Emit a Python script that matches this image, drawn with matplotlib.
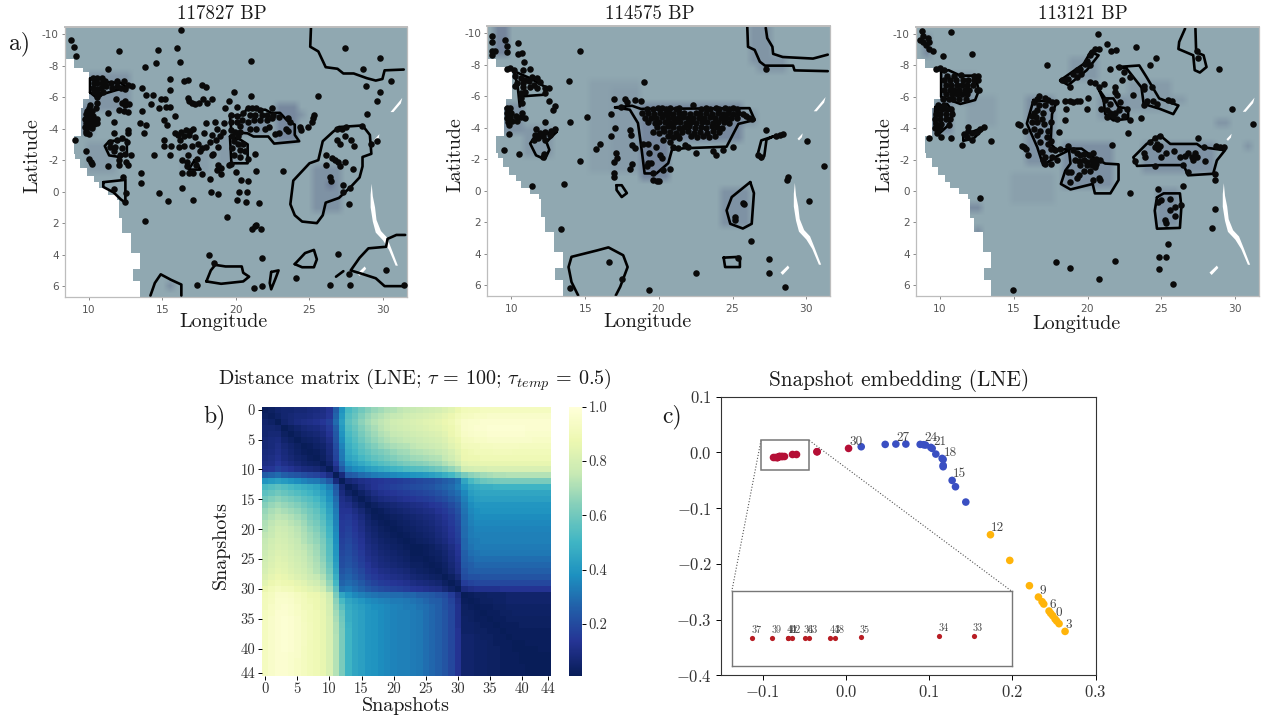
""" Stone point density maps, snapshot distance matrix and LNE embedding. """
# imports and dependencies.
import numpy as np
import matplotlib
matplotlib.use('Agg')
import matplotlib.pyplot as plt
from matplotlib.colors import LinearSegmentedColormap
from matplotlib.patches import Rectangle

plt.rcParams['font.family'] = ['cmr10', 'DejaVu Sans']
plt.rcParams['mathtext.fontset'] = 'cm'
plt.rcParams['axes.unicode_minus'] = False
plt.rcParams['axes.formatter.use_mathtext'] = True

W, H = 1262, 717

# ---- map panels ----
map_titles = ['117827 BP', '114575 BP', '113121 BP']
lon_ticks = [10, 15, 20, 25, 30]
lat_ticks = [-10, -8, -6, -4, -2, 0, 2, 4, 6]

# west coast staircase, shared by the three maps
coast_lat = [-8.4, -7.85, -7.6, -5.85, -5.3, -3.5, -2.4, -2.1, -1.5, -1.0, -0.6, -0.2, 0.2, 0.5, 1.7, 2.6, 3.9, 4.9, 5.7, 6.7]
coast_lon = [9.0, 9.6, 10.05, 9.65, 9.5, 9.0, 9.1, 9.45, 9.9, 10.35, 10.7, 11.3, 11.9, 12.05, 12.3, 12.9, 13.5, 13.0, 13.5, 13.5]

lakes = [
    [(29.22, -0.5), (29.3, 0.3), (29.45, 1.0), (29.55, 1.8), (29.85, 2.5), (30.25, 2.9), (30.55, 3.6), (31.0, 4.7),
     (30.85, 4.7), (30.4, 3.7), (30.0, 3.1), (29.5, 2.6), (29.3, 1.9), (29.15, 1.0), (29.15, 0.2)],
    [(30.5, -5.05), (30.9, -5.5), (31.3, -5.95), (31.2, -5.6), (30.7, -5.05)],
    [(29.4, -3.3), (29.75, -3.65), (29.7, -3.4), (29.5, -3.2)],
    [(28.25, 5.2), (28.75, 4.75), (28.85, 4.9), (28.4, 5.35)],
]

# darker patches of the background: lon0, lon1, lat0, lat1, level
tints_117827 = [
    (23, 24.5, -5.3, -3.2, .5), (20.5, 22.5, -4.5, -3.5, .35), (10, 13, -7.5, -5, .3), (9.5, 10.5, -5.7, -3.5, .35),
    (25.5, 27.5, -1.5, 1.5, .35), (26.5, 27, -.5, 0, .7), (27.2, 27.6, -9.3, -8.9, .5), (8.9, 9.2, -7.6, -7.4, 1),
    (9.5, 10, -7.7, -7.4, .4), (15.5, 16, 5.9, 6.4, .4), (24.3, 25, -5.2, -4.3, .3), (10, 12, -3, -1, .2),
    (19, 20.5, -3.5, -1.5, .2), (16.5, 18.5, -3, -1, .15),
]
tints_114575 = [
    (8.7, 9.8, -10.3, -8.5, .55), (19, 26, -5.4, -3, .5), (17, 19, -6.5, -1, .2), (18.8, 21, -3, -.5, .55),
    (24.5, 26.5, 0, 2.5, .35), (9.5, 11, -5.5, -3.5, .35), (11, 13, -4, -2, .25), (26.5, 28, -10.3, -8, .3),
    (27, 29, -8.5, -7.7, .3), (15.5, 19, -6.8, -1, .12), (8.9, 9.2, -7.6, -7.4, 1), (26, 27, -5.2, -4, .25),
]
tints_113121 = [
    (8.7, 9.6, -10, -8.5, .45), (10, 12.5, -7.5, -5.5, .3), (9.6, 11, -5.5, -3.5, .4), (16, 18, -6, -1.5, .35),
    (18.5, 22, -3, 0, .4), (24, 29, -3.2, -1.2, .35), (25, 26.5, .2, 2.3, .35), (21, 23, -6, -4.3, .3),
    (19, 21, -8.5, -7, .25), (23, 26, -7, -5.2, .2), (12, 14, -6, -4, .12), (15, 18, -1, 1, .12),
    (12, 13, 1, 1.4, .45), (12.5, 13, 2.5, 3, .4), (29, 30, -4.7, -4.2, .3), (8.9, 9.2, -7.6, -7.4, 1),
    (31, 31.5, -3, -2.5, .3), (26, 27, -5.8, -5.4, .2),
]

contours_117827 = [
    [(25.1, -10.4), (25.05, -9.2), (25.6, -8.9), (25.9, -8.3), (26.1, -7.9), (26.9, -7.8), (27.3, -7.5), (28.0, -7.5), (28.9, -7.2), (29.5, -7.05), (29.95, -7.15), (30.1, -7.7), (31.4, -7.75)],
    [(10.1, -6.3), (10.1, -7.2), (10.9, -7.15), (11.2, -6.95), (12.2, -6.9), (12.6, -6.6), (11.9, -6.45), (11.0, -6.2), (10.5, -6.0), (10.1, -6.3)],
    [(19.6, -4.8), (20.5, -4.85), (20.7, -5.2), (22.0, -5.2), (22.4, -5.0), (23.0, -5.0), (23.5, -4.5), (24.0, -4.25), (24.0, -3.6), (24.3, -3.2), (22.6, -3.05), (22.2, -3.5), (21.2, -3.5), (20.8, -3.7), (19.7, -3.8), (19.6, -4.8)],
    [(19.6, -3.5), (20.3, -3.3), (20.8, -3.0), (20.8, -1.8), (19.7, -1.8), (19.6, -3.5)],
    [(11.4, -3.2), (12.6, -3.3), (12.6, -2.4), (12.1, -2.2), (11.4, -2.3), (11.1, -2.9), (11.4, -3.2)],
    [(17.2, -2.0), (17.6, -1.4), (16.8, -1.4), (17.2, -2.0)],
    [(11.0, -.6), (12.5, -.75), (12.5, .7), (12.2, .5), (11.7, .05), (11, -.3), (11.0, -.6)],
    [(27.0, -4.1), (28.6, -4.2), (29.1, -3.6), (29.2, -2.4), (28.6, -2.2), (28.6, -1.6), (28.4, -.9), (27.8, -.3), (27, .4), (26.1, .7), (25.9, 1.5), (25.5, 2), (24.5, 1.9), (24.0, 1.5), (23.7, .8), (23.9, -.7), (25, -1.8), (25.6, -2), (25.9, -3.2), (26.6, -3.8), (27, -4.1)],
    [(14.2, 6.6), (14.5, 5.8), (14.9, 5.25), (15.6, 5.6), (16.3, 5.9), (16.3, 6.6)],
    [(18.0, 5.7), (18.3, 5.0), (18.6, 4.65), (19.3, 4.75), (20.4, 4.75), (20.5, 5.15), (20.9, 5.4), (20.5, 5.7), (19, 5.85), (18.0, 5.7)],
    [(24, 4.6), (24.7, 3.9), (25.3, 3.7), (25.5, 4.3), (25.3, 4.8), (24.5, 4.8), (24, 4.6)],
    [(22.4, 5.1), (22.9, 5.0), (22.7, 5.5), (22.4, 6.2), (22.3, 5.8), (22.4, 5.1)],
    [(31.5, 2.75), (30.9, 2.75), (30.3, 3.0), (30.2, 3.5), (29.0, 3.6), (28.4, 4.2), (27.8, 5.0), (28.5, 5.2), (29.5, 5.5), (30.1, 6.0), (31.5, 6.0)],
    [(26.8, 5.4), (27.3, 5.05)],
]
contours_114575 = [
    [(26, -10.4), (26.05, -9.15), (26.5, -8.95), (26.85, -8.2), (27.2, -7.95), (29.1, -7.95), (29.2, -7.65), (31.45, -7.6)],
    [(27.25, -10.35), (27.35, -9.7), (27.7, -9.15), (27.75, -8.7), (28.4, -8.5), (30.45, -8.4), (31.45, -8.65)],
    [(10.2, -7.6), (11.3, -7.15), (12.5, -6.5), (12.2, -6.1), (10.75, -6), (10.6, -5.35), (10.45, -6.7), (10.2, -7.6)],
    [(13.1, -3.75), (12.4, -3.1), (12.6, -2.6), (12.3, -2), (11.7, -2.25), (11.3, -3), (11.7, -3.55), (13.1, -3.75)],
    [(17.05, -5.3), (18.2, -5.4), (18.8, -5.2), (26.15, -5.25), (26.5, -4.5), (25.4, -4.25), (24.6, -2.8), (21.7, -2.7), (20.9, -2.6), (20.65, -1.75), (19.85, -1.1), (19.05, -1.1), (18.85, -2.6), (18.6, -4.3), (18.05, -5.15), (17.05, -5.3)],
    [(27.75, -3.45), (27.3, -3.25), (27.15, -2.2), (26.95, -2.0), (26.7, -2.3), (26.95, -3.2), (27.75, -3.45)],
    [(17.15, -.35), (17.5, -.35), (17.85, .15), (17.5, .4), (17.15, -.05), (17.15, -.35)],
    [(26.2, -.55), (26.45, .15), (26.3, 2.1), (25.7, 2.4), (24.85, 2.1), (24.6, 1.25), (24.95, .4), (26.2, -.55)],
    [(14.55, 6.65), (14.1, 5.8), (13.9, 4.85), (14.1, 4.2), (15.8, 3.8), (16.6, 3.6), (17.6, 4.1), (17.9, 4.85), (17.4, 6.1), (17.1, 6.65)],
    [(24.4, 4.25), (25.5, 4.2), (25.5, 4.85), (24.5, 4.85), (24.4, 4.25)],
]
contours_113121 = [
    [(26.6, -10.35), (26.2, -9.5), (26.15, -9.05), (27.15, -8.65), (27.25, -7.7), (27.6, -7.55), (28.05, -7.9), (27.85, -8.65), (27.35, -8.85), (27.3, -10.35)],
    [(10.1, -7.6), (10.6, -7.7), (11.4, -7.35), (12.4, -7.35), (12.65, -6.4), (12.4, -5.8), (11.4, -5.55), (10.1, -6), (10.1, -7.6)],
    [(9.7, -5.35), (10.5, -5.55), (10.95, -5), (10.6, -4.2), (9.95, -3.65), (9.65, -4.3), (9.7, -5.35)],
    [(11.6, -3.55), (13.1, -4.1), (12.3, -3.35), (11.6, -3.2), (11.6, -3.55)],
    [(16.35, -5.8), (17.9, -5.65), (17.6, -4.9), (17.5, -3), (17.95, -2.6), (18.85, -2.7), (19.6, -2.7), (20.4, -2.15), (21.2, -1.75), (22.1, -1.7), (22.1, -.7), (21.55, .15), (20.5, .15), (20.35, -.45), (18.85, -.1), (18.2, -.45), (18.5, -1.3), (18.85, -1.75), (18.75, -2.6), (17.9, -2.2), (17, -1.65), (16.6, -2.8), (15.9, -4.3), (16.35, -5.8)],
    [(18.15, -7.05), (19.75, -8.1), (20.2, -8.85), (20.75, -8.65), (19.95, -7.7), (18.7, -6.75), (18.15, -7.05)],
    [(22, -7.9), (23.5, -8), (24, -7.25), (24.85, -5.9), (26.15, -5.45), (25.8, -4.9), (24.85, -5.25), (23.8, -5.55), (23.65, -6.6), (22.65, -7.8), (22, -7.9)],
    [(20.75, -6.5), (21.2, -5.9), (21.75, -5.9), (22.1, -5.35), (22.75, -5.25), (22.75, -4.6), (21.75, -4.5), (21.2, -4.9), (21.1, -5.75), (20.75, -6.5)],
    [(24.9, -3.55), (25.6, -3), (27.4, -3), (27.7, -2.8), (29.3, -2.6), (28.75, -1.95), (28.5, -1.1), (26.8, -1), (26.5, -1.65), (24.9, -1.65), (23.35, -1.6), (23.1, -2.15), (24, -3), (24.9, -3.55)],
    [(24.7, .4), (25.15, .15), (26.25, .15), (26.35, 1), (26.25, 2.35), (24.7, 2.4), (24.55, 1.25), (24.7, .4)],
]

points_117827 = [
    (8.8, -9.6), (9.0, -9.2), (9.15, -8.6), (12.05, -8.9), (14.7, -9.0), (16.0, -9.1), (16.25, -10.25), (16.2, -8.25), (14.55, -8.15), (13.8, -7.9), (11.35, -7.8), (21.0, -8.3),
    (27.4, -9.1), (29.8, -8.5), (28.65, -7.8), (30.55, -7.0), (28.85, -6.7), (29.8, -6.35), (29.55, -5.75), (28.9, -4.95), (25.55, -6.05),
    (10.3, -7.2), (10.6, -7.2), (10.9, -7.2), (10.35, -6.9), (10.6, -6.9), (10.9, -6.9), (11.1, -7.0), (11.5, -6.9), (11.9, -7.0), (12.4, -7.0), (12.7, -6.8), (12.95, -6.7),
    (10.3, -6.6), (10.6, -6.5), (10.85, -6.6), (11.2, -6.7), (11.6, -6.6), (11.9, -6.7), (12.2, -6.6), (12.45, -6.5), (10.4, -6.3), (10.7, -6.2), (11.0, -6.35), (10.6, -6.0),
    (12.5, -5.75), (11.85, -5.85), (12.3, -5.6), (12.5, -5.5), (12.75, -5.55), (10.6, -5.6), (10.5, -5.3), (12.05, -5.2), (12.4, -5.15), (12.65, -5.05), (11.35, -5.0),
    (10.1, -5.5), (10.05, -5.3), (9.9, -5.1), (10.2, -5.1), (9.8, -4.9), (10.05, -4.85), (10.3, -4.8), (9.75, -4.6), (10, -4.6), (10.25, -4.55), (10.55, -4.6), (9.8, -4.35), (10.05, -4.35), (10.35, -4.3), (10.6, -4.35),
    (9.75, -4.1), (9.95, -4.1), (10.2, -4.05), (9.8, -3.85), (9.85, -3.7), (10.05, -3.65), (9.1, -3.3), (9.8, -2.55), (10.0, -2.1), (10.15, -1.9), (10.2, -1.75),
    (13.65, -6.55), (13.9, -6.15), (14.35, -6.15), (14.25, -5.55), (13.6, -5.1), (14.75, -5.3), (14.9, -5.85), (15.2, -5.9), (15.55, -6.45), (15.55, -7.15), (16.45, -7), (16.75, -7.1), (17.7, -6.75), (18, -6.65), (19.9, -6.35),
    (16.75, -5.95), (16.85, -5.75), (17.0, -5.6), (17.25, -5.55), (17.5, -5.6), (17.8, -5.9), (18.05, -5.6), (18.4, -5.9), (19.55, -5.75), (21, -6.05), (19.25, -5.3), (20.1, -5.4),
    (15.1, -4.55), (15.25, -5.4), (15.55, -5.4), (15.9, -4.8), (15.35, -4.25), (13.5, -4.35), (13.9, -4.2), (13.75, -3.7), (15.1, -3.3), (15.1, -2.9), (15.6, -2.9), (14.45, -2.3), (15.55, -2.3),
    (15.9, -3.75), (16.1, -3.6), (16.3, -3.8), (16.6, -3.9), (16.9, -3.85), (17.1, -4), (16.8, -3.6), (16.45, -3.5), (16.2, -3.3), (17.25, -3.45), (16.15, -2.85), (16.45, -2.9), (17, -2.9), (17.45, -3), (17.7, -2.75), (17.55, -2.55),
    (16.75, -2.3), (16.35, -2), (16.65, -1.9), (17.35, -2.1), (17.3, -1.7), (16.65, -1.6), (16.35, -1.2), (16.85, -1.2), (17.1, -1.2), (17.7, -1.1), (18.25, -.8),
    (18.0, -4.35), (18.6, -4.4), (19.2, -4.35), (18.75, -4), (17.85, -3.75), (18.35, -3.6), (19.1, -3.8), (18.9, -3.5), (18.65, -3.3), (18.25, -3.15), (18.0, -2.85), (18.8, -2.85), (18.45, -2.4), (18.35, -2.3),
    (18.8, -1.7), (18.7, -1.35), (19, -1.15), (19, -1.5), (19.55, -1.7), (19.7, -1.75), (20, -1.25), (20.35, -.75), (20.8, -.65), (21.4, -1.3), (23.2, -1.3), (21.3, -2.4),
    (19.7, -4.85), (20.1, -4.8), (20.5, -5), (20.85, -5.3), (21.1, -5.3), (21.4, -5.3), (21.65, -5.2), (22.45, -5.3), (20.95, -4.85), (21.3, -4.85), (21.75, -4.85), (22.1, -4.85), (22.55, -4.85), (22.9, -4.75), (23.55, -4.65), (23.65, -4.45),
    (19.7, -4.45), (20.05, -4.45), (20.4, -4.55), (20.85, -4.45), (21.2, -4.55), (21.65, -4.55), (22.1, -4.55), (22.45, -4.65), (20.3, -4.15), (20.95, -4), (21.4, -4), (21.95, -3.95), (22.25, -4.1), (23.4, -4), (23.55, -3.85), (22.9, -3.75), (22.65, -3.65),
    (24.35, -4.1), (24.45, -3.9), (24.9, -4.1), (25.3, -4.85), (25.25, -4.65), (25.2, -4.45), (19.7, -3.9), (19.95, -3.8), (20.3, -3.8), (19.75, -3.5), (20.15, -3.5), (19.85, -3.2), (20.15, -3.05), (20.5, -3.05), (19.75, -2.75), (20.3, -2.65), (20.6, -2.55), (19.85, -2.3), (20.3, -2.2), (20.85, -2.1),
    (20.2, .05), (20.75, .05), (20.1, .55), (20.7, .65), (21.6, .7), (18.3, .05), (18.8, .15), (17.1, .55), (15.4, .6), (14.75, .1), (16.35, -.2), (13.55, -1.2), (13.55, -.55), (13.85, 1.85), (19.4, 1.6),
    (21.1, 2.35), (21.3, 2.2), (21.4, 2.1), (21.7, 2.4), (21.75, 4.2), (18.15, 4.05), (18.5, 4.5), (17.35, 5.95), (21.25, 6.1), (21.8, 6), (24.05, 5.5), (26.4, 5.95), (26.95, 3.95), (27.65, 5.2), (27.75, 5.9), (30.2, 4.95), (31.4, 5.95), (27.65, .8),
    (26.85, -4), (27.2, -4), (27.5, -4.1), (28.55, -4.15), (26.85, -3.3), (27.4, -3.5), (27.1, -3.05), (27.85, -3.3), (28, -2.9), (29.2, -3.05), (29.6, -3.2), (26.1, -2.3), (26.5, -2.15), (26.7, -2), (26.95, -1.85), (27.4, -1.85), (26.15, -1.7), (27.05, -1.65), (27.95, -1.45), (26.4, -.95), (26.45, -.65), (27.25, -.45), (27.75, -.2), (27.3, .05),
    (11.7, -4.4), (11.7, -3.7), (12.65, -3.9), (12.7, -3.7), (11.45, -3.15), (11.9, -3.3), (12.25, -3.4), (12.6, -3.15), (11.8, -2.85), (12.25, -2.75), (11.45, -2.85), (11.7, -2.55), (12.15, -2.3), (12.5, -2.4), (12.85, -2.3), (12.1, -2), (12.55, -1.9), (12.7, -1.7), (12.1, -1.7), (11.3, -1.6), (12.35, -.95), (11.75, -.15), (12.55, .1), (12.5, .65),
]

points_114575 = [
    (8.7, -9.85), (8.7, -9.45), (9.6, -9.6), (9.7, -9.2), (10.45, -9.4), (8.7, -8.85), (8.95, -8.85), (8.7, -8.65), (9.7, -8.8), (10.5, -8.7), (10.75, -8.75), (10.9, -8.2), (14.7, -8.85), (13.9, -7), (19, -6.9),
    (9.75, -7.75), (9.95, -7.8), (10.2, -7.65), (10.8, -7.7), (11.3, -7.75), (10.3, -7.3), (10.65, -7.15), (10.95, -7.05), (11.4, -7.25), (11.75, -7.15), (10.4, -6.85), (10.8, -6.85), (11.2, -6.95), (11.55, -6.75), (12, -6.9),
    (10.3, -6.65), (10.85, -6.6), (11.3, -6.6), (11.75, -6.5), (12.3, -6.5), (12.55, -6.5), (10.65, -6.2), (10.95, -6.3), (12.3, -6.2), (10.65, -5.9), (12.55, -5.7), (13, -5.4), (12.85, -5.15), (10.75, -5.55), (10.75, -4.95), (10.95, -4.65),
    (9.7, -5.25), (9.95, -5.25), (9.7, -4.95), (10, -4.95), (9.7, -4.65), (9.95, -4.7), (10.35, -4.75), (10.65, -4.7), (9.8, -4.4), (10.05, -4.45), (10.4, -4.45), (9.85, -4.2), (9.85, -3.6), (9.5, -2.6), (10.55, -2.35),
    (11.7, -3.95), (12.3, -4.35), (13, -3.95), (12.7, -3.8), (12.3, -3.75), (12, -3.65), (11.65, -3.55), (12.65, -3.55), (12.2, -3.45), (11.85, -3.35), (11.55, -3.25), (12.3, -3.25), (12.25, -2.35), (12.2, -2.15),
    (14, -4.35), (15.15, -4.7), (13.6, -.4), (11.45, -.3), (13.4, 2.45), (14, 6.2), (16.65, 4.5), (17.5, 5.6), (19.35, 6.3), (22.55, 5.25), (25.4, 4.25), (26.25, 3.2), (27.5, 4.35), (27.5, 5.2), (28.55, 6.1), (30.2, .65), (31.2, -1.55), (30.05, -3.15),
    (28.75, -.9), (28.7, -.7), (27.25, -3.85), (27.95, -3.5), (28.2, -3.55), (28.4, -3.6), (27.25, -7.75), (25, -2.8), (25.7, .8), (25.75, .85), (25.15, 1.65), (25.15, 1.85), (26.75, -2.3), (26.95, -2.15),
    (17, -5.85), (16.8, -4.9), (17.05, -4), (16.8, -3.5), (16.05, -2.95), (15.75, -2.65), (14.7, -1.9), (17.1, -2.4), (17.15, -2.05), (16.95, -1.8), (16.95, -1.1), (17, -.85), (18.05, -3.85), (18.15, -3.55), (18.2, -2.9), (18.4, -2.7), (18.05, -1.4), (18.2, -1.7),
    (17.7, -5.85), (17.85, -5.65), (18.4, -5.75), (18.8, -5.7), (17.45, -5.3),
    (19.2, -5.2), (19.6, -5.2), (19.95, -5.25), (20.25, -5.25), (20.5, -5.2), (20.8, -5.25), (21.15, -5.2), (21.4, -5.25), (22.3, -5.45), (22.9, -5.2), (23.2, -5.25), (23.5, -5.2), (23.85, -5.25), (24.1, -5.2), (24.5, -5.25), (24.75, -5.2), (25.05, -5.25), (25.3, -5.2),
    (18.9, -4.95), (19.3, -4.95), (19.7, -4.9), (20.1, -4.95), (20.4, -4.9), (20.7, -4.95), (21.0, -4.9), (21.35, -4.95), (21.7, -4.95), (22.1, -4.9), (22.5, -4.95), (22.8, -4.9), (23.2, -4.95), (23.6, -4.9), (24.0, -4.95), (24.35, -4.9), (24.7, -4.95), (25.0, -4.9), (25.4, -4.95), (25.7, -4.9),
    (19.1, -4.65), (19.5, -4.6), (19.85, -4.65), (20.2, -4.7), (20.6, -4.65), (20.95, -4.6), (21.3, -4.65), (21.65, -4.7), (22.0, -4.6), (22.35, -4.65), (22.7, -4.6), (23.05, -4.65), (23.45, -4.7), (23.8, -4.65), (24.2, -4.6), (24.55, -4.65), (24.9, -4.6), (25.3, -4.65), (25.9, -4.75), (26.1, -4.65), (26.3, -4.55),
    (19.3, -4.35), (19.75, -4.3), (20.05, -4.4), (20.4, -4.35), (20.75, -4.3), (21.1, -4.35), (21.45, -4.4), (21.85, -4.3), (22.2, -4.35), (22.55, -4.3), (22.95, -4.4), (23.3, -4.35), (23.65, -4.3), (24.0, -4.35), (24.4, -4.4), (24.75, -4.3),
    (19.9, -4.05), (20.3, -4.0), (20.6, -4.1), (21.0, -4.05), (21.35, -4.0), (21.7, -4.05), (22.05, -4.1), (22.45, -4.0), (22.85, -4.05), (23.2, -4.0), (23.6, -4.1), (23.95, -4.05), (24.3, -4.0),
    (19.6, -3.75), (20.0, -3.7), (20.35, -3.8), (20.75, -3.75), (21.2, -3.7), (21.6, -3.75), (22.0, -3.8), (22.4, -3.7), (22.8, -3.75), (23.25, -3.7), (23.65, -3.8), (24.1, -3.75),
    (20.6, -3.45), (20.95, -3.4), (21.3, -3.5), (22.2, -3.45), (22.6, -3.4), (23.0, -3.45), (23.4, -3.4), (23.8, -3.5),
    (18.95, -3), (19.3, -3), (19.85, -2.8), (20.3, -3.2), (20.75, -3.1), (21.35, -3.35), (21.8, -2.9), (22, -2.8), (21.3, -2.7), (21, -2.8), (22.55, -2.4), (23.7, -2.5), (23.9, -2.25), (24.35, -2.6),
    (19.35, -2.4), (20.1, -2.25), (20.2, -2.05), (19.3, -1.75), (19.5, -1.75), (19.2, -1.6), (19.65, -1.1), (20.3, -1.3), (20.8, -1.4), (19.65, -.7), (19.9, -.6), (20, -.6),
]

points_113121 = [
    (8.8, -10.2), (8.9, -9.9), (8.7, -9.6), (8.9, -9.5), (9.2, -9.75), (9.3, -9.5), (9.05, -9.3), (9.25, -9.05), (9.55, -8.95), (10.75, -10.15), (10.25, -8.6), (12.2, -8.75), (9.75, -7.75), (10.05, -7.85), (10.3, -7.7),
    (10.5, -7.3), (11.0, -7.3), (11.45, -7.4), (12.3, -7.3), (12.6, -7.3), (10.3, -7.05), (10.7, -7.05), (11.1, -7.05), (11.55, -7.05), (11.9, -7.05), (12.3, -7.05), (12.6, -7.05),
    (10.4, -6.75), (10.75, -6.75), (11.15, -6.75), (11.5, -6.75), (11.85, -6.75), (12.25, -6.75), (10.3, -6.45), (10.7, -6.45), (11.0, -6.45), (11.3, -6.45), (11.7, -6.45), (12.0, -6.45), (12.5, -6.45), (12.65, -6.45),
    (10.4, -6.15), (10.85, -6.15), (11.15, -6.15), (11.5, -6.15), (11.85, -6.15), (10.2, -5.85), (10.65, -5.85), (10.9, -5.85), (11.3, -5.85), (11.75, -5.85),
    (9.9, -5.5), (10.3, -5.5), (9.8, -5.2), (10.15, -5.2), (10.5, -5.2), (10.8, -5.2), (9.75, -4.9), (10.05, -4.9), (10.45, -4.9), (10.85, -4.9), (9.7, -4.6), (10, -4.6), (10.4, -4.6), (10.7, -4.6), (9.75, -4.3), (10.1, -4.3), (10.65, -4.2), (9.7, -4), (10.05, -4), (9.85, -3.7),
    (9.3, -3.4), (10.1, -3.45), (10.8, -3.4), (11.5, -2.95), (11.9, -4.1), (11.95, -3.85), (11.65, -3.65), (12.2, -3.7), (11.85, -3.45), (12.2, -3.25), (12.5, -3.75), (12.75, -3.95), (13, -4.1), (13.5, -3.2), (12.75, .45),
    (15.3, -4.25), (15.45, -4.2), (15.8, -3.8), (15.7, -2.8), (15.6, -2.9), (15.85, -2.7), (16, -2.3),
    (16.6, -5.85), (16.35, -5.65), (16.75, -6.05), (17.15, -5.9), (17.35, -5.8), (17.6, -5.65), (17.9, -5.65), (16.7, -5.45), (17.15, -5.45), (17.6, -5.25), (16.35, -5), (16.6, -5.15), (17, -4.95), (16.25, -4.8), (16.5, -4.7), (16.9, -4.6),
    (16.25, -4.4), (16.6, -4.4), (17.05, -4.3), (17.5, -4.4), (16.35, -3.95), (16.8, -3.85), (17.35, -3.8), (18.05, -3.75), (16.6, -3.55), (17.25, -3.45), (17.5, -3.2), (16.8, -3.1), (17.35, -3), (16.9, -2.5), (17.5, -2.7), (17.15, -2.15),
    (17.8, -2.6), (18.15, -2.65), (18.7, -2.85), (17.6, -2.15), (17, -1.95), (17.15, -1.75), (17.55, -1.75), (17.95, -2),
    (18.5, -5.75), (18.85, -5.75), (19.05, -5.7), (19.3, -5.75), (19.5, -5.75), (20, -5.9), (19.95, -5.25), (18.55, -5.25), (18.45, -4.55),
    (19.05, -2.6), (19.3, -2.4), (19.5, -2.3), (19.75, -2.35), (20.1, -2.3), (20.4, -2.4), (20.6, -2.05), (19.15, -1.95), (19.4, -1.9), (19.75, -1.95), (19.95, -1.85), (20.3, -1.95), (20.85, -1.95), (19.5, -1.65), (19.95, -1.65), (20.3, -1.65), (20.6, -1.75), (19.75, -1.3), (20.15, -1.25), (20.5, -1.5),
    (18.7, -1.2), (18.9, -1.2), (19.4, -1), (19.3, -.8), (18.85, -.55), (20.4, -.7), (20.75, -.8), (20.85, -.7), (21.65, -2.95),
    (18.25, -7.05), (18.5, -7.05), (18.85, -6.6), (18.7, -7.15), (19.05, -7.45), (19.3, -7.7), (19.5, -7.8), (19.3, -7.25), (19.55, -7.45), (19.8, -8.1), (19.95, -8.3), (20.2, -8.65), (20.3, -8.85), (20.2, -8), (20.5, -9.05), (20.8, -9.05), (20.7, -10),
    (21.3, -9.35), (21.6, -8.95), (21.95, -9), (23.3, -9.15), (24.25, -8.05), (24.65, -8.5), (21.5, -7.75), (22.1, -7.9), (22.45, -7.6), (22.9, -7.25), (22.3, -7.05),
    (20.2, -6.95), (20.5, -6.9), (21.1, -6.85), (20.75, -6.6), (21.85, -6.65), (21.85, -6.3), (22, -6.1), (23.1, -6.1), (23.8, -6.7), (23.8, -6.5), (24.35, -6.65), (24, -5.75), (24.45, -5.75), (24.7, -5.55), (23.8, -5.5), (25.45, -5.8), (25.7, -5.75), (22.2, -5.65),
    (21.2, -5.8), (21.55, -5.55), (20.9, -5.2), (21.3, -5.15), (21.55, -5), (21.85, -5), (22.1, -5.15), (22.65, -5.25), (21.3, -4.7), (21.75, -4.8), (22.45, -4.8), (22, -4.6), (22.9, -4.5), (23.65, -4.65), (22.75, -3.7),
    (24.25, -3.1), (24.55, -3.4), (24.9, -3.5), (24.7, -3), (24.9, -2.9), (24.55, -2.8), (24.8, -2.65), (23.85, -2.4), (23.9, -2.15), (23.2, -1.9), (24.55, -1.6), (25.3, -2.4), (25.85, -2.55), (25, -2.15), (26.25, -2.15), (26.6, -2.25), (26.8, -2.4), (27.05, -2.15), (27.3, -2.4), (27.4, -2.15), (27.15, -1.95),
    (27.5, -3.4), (27.85, -2.8), (28.7, -2.85), (28.95, -2.8), (29.2, -2.8), (26.8, -1.2), (26.45, -1.65), (27.95, -1.9), (28.6, -1.1), (28.6, -.7), (26.45, -.3), (24.8, -.1), (22.9, .15),
    (24.8, .7), (25, .6), (25.6, .5), (25.9, 1), (25.6, 1.2), (26.35, .9), (25.9, 1.6), (25.25, 1.85), (25.3, 2.05),
    (29.8, -5.25), (31.2, -4.3), (28.9, -7.8), (27.4, -8.95), (27.5, -8.45), (28.6, 1.15), (28.45, 2.35), (25.45, 3.4), (24.85, 4.2), (25.3, 4.2), (24.85, 4.95), (25.75, 5.95), (20.75, 5.6), (21.85, 4.45), (18.85, 4.9), (17.9, 4.5), (14.95, 6.3), (17.25, -8),
]

# ---- distance matrix: upper triangle in percent ----
# each row: cols i..10 | 11 12 | 13..30 | 31..44
dist_upper = [
    [2, 3, 5, 6, 6, 7, 7, 8, 9, 10, 13, 25, 39, 52, 56, 60, 64, 67, 69, 71, 72, 74, 75, 76, 77, 78, 79, 80, 82, 84, 87, 90, 91, 91, 92, 92, 92, 92, 92, 92, 92, 92, 92, 92, 92],
    [2, 4, 6, 7, 8, 8, 9, 10, 11, 14, 27, 41, 54, 58, 63, 67, 70, 72, 74, 75, 76, 78, 79, 80, 81, 82, 83, 85, 87, 90, 92, 93, 94, 94, 95, 95, 95, 95, 95, 95, 95, 95, 95, 95],
    [1, 5, 7, 9, 10, 11, 12, 14, 17, 29, 43, 56, 60, 65, 69, 72, 74, 76, 78, 79, 80, 81, 82, 83, 84, 85, 87, 89, 92, 95, 96, 96, 97, 97, 97, 97, 97, 97, 97, 97, 97, 97, 97],
    [1, 3, 5, 7, 8, 9, 11, 15, 26, 41, 54, 58, 63, 67, 70, 73, 75, 77, 78, 79, 80, 81, 82, 83, 84, 86, 88, 91, 95, 96, 97, 97, 98, 98, 98, 98, 98, 98, 97, 97, 97, 97],
    [1, 3, 5, 6, 7, 9, 13, 24, 39, 52, 56, 61, 65, 68, 71, 73, 75, 76, 77, 78, 79, 80, 81, 82, 84, 87, 90, 94, 95, 96, 96, 97, 97, 97, 97, 97, 97, 96, 96, 96, 96],
    [1, 3, 4, 5, 7, 11, 23, 37, 50, 54, 59, 63, 66, 69, 71, 73, 74, 75, 76, 77, 78, 79, 80, 82, 85, 88, 92, 93, 94, 94, 95, 95, 95, 95, 95, 95, 95, 94, 94, 94],
    [1, 2, 4, 5, 9, 21, 35, 48, 52, 56, 60, 63, 66, 68, 70, 71, 72, 74, 75, 76, 77, 78, 80, 83, 86, 90, 91, 91, 92, 92, 93, 93, 93, 93, 92, 92, 92, 92, 92],
    [1, 2, 4, 8, 19, 33, 46, 50, 54, 57, 60, 62, 64, 66, 68, 69, 71, 72, 73, 74, 75, 77, 80, 84, 88, 89, 90, 90, 90, 91, 91, 91, 90, 90, 90, 90, 90, 90],
    [1, 3, 7, 18, 32, 44, 47, 51, 54, 57, 59, 61, 63, 65, 66, 68, 69, 70, 71, 72, 75, 78, 82, 87, 88, 88, 89, 89, 89, 89, 89, 89, 89, 89, 89, 89, 89],
    [1, 5, 15, 29, 40, 43, 46, 49, 52, 54, 56, 58, 60, 62, 63, 64, 65, 67, 68, 71, 74, 78, 84, 85, 85, 86, 86, 86, 86, 86, 86, 86, 86, 86, 86, 86],
    [1, 10, 24, 34, 37, 39, 42, 44, 46, 48, 50, 51, 53, 54, 55, 56, 58, 60, 63, 66, 70, 78, 79, 80, 80, 81, 81, 81, 81, 81, 81, 81, 81, 81, 81],
    [1, 8, 24, 26, 29, 31, 33, 34, 35, 36, 37, 38, 39, 40, 41, 43, 45, 48, 51, 56, 62, 65, 67, 69, 70, 71, 71, 72, 72, 72, 72, 72, 72, 72],
    [1, 7, 9, 11, 12, 13, 14, 15, 15, 16, 17, 18, 19, 20, 21, 23, 25, 27, 31, 45, 52, 56, 59, 60, 61, 62, 62, 62, 62, 62, 62, 62, 62],
    [1, 4, 8, 11, 13, 15, 16, 17, 18, 19, 20, 21, 22, 23, 25, 27, 29, 33, 40, 45, 47, 48, 48, 49, 50, 50, 50, 50, 50, 50, 50, 50],
    [1, 4, 7, 10, 12, 13, 14, 15, 16, 17, 18, 19, 20, 22, 24, 27, 30, 36, 42, 44, 45, 45, 45, 45, 45, 45, 45, 45, 45, 45, 45],
    [1, 4, 7, 9, 10, 11, 12, 13, 14, 15, 16, 17, 19, 21, 24, 27, 34, 40, 42, 43, 43, 43, 43, 43, 43, 43, 43, 43, 43, 43],
    [1, 3, 5, 6, 7, 8, 9, 10, 11, 12, 14, 15, 17, 20, 24, 32, 37, 40, 40, 40, 40, 40, 40, 40, 40, 40, 40, 40, 40],
    [1, 2, 4, 5, 6, 7, 8, 9, 10, 11, 13, 15, 18, 22, 31, 36, 38, 39, 39, 39, 39, 39, 39, 39, 39, 39, 39, 39],
    [1, 2, 3, 4, 5, 6, 7, 8, 9, 11, 13, 16, 20, 30, 35, 37, 37, 37, 37, 37, 37, 37, 37, 37, 37, 37, 37],
    [1, 2, 3, 4, 5, 6, 7, 8, 10, 12, 15, 19, 30, 34, 36, 36, 36, 36, 36, 36, 36, 36, 36, 36, 36, 36],
    [1, 2, 3, 4, 5, 6, 7, 9, 11, 14, 18, 29, 33, 35, 35, 35, 35, 35, 35, 35, 35, 35, 35, 35, 35],
    [1, 2, 3, 4, 5, 6, 8, 10, 13, 17, 29, 33, 34, 34, 34, 34, 34, 34, 34, 34, 34, 34, 34, 34],
    [1, 2, 3, 4, 5, 7, 9, 12, 16, 28, 32, 33, 34, 34, 34, 34, 34, 34, 34, 34, 34, 34, 34],
    [1, 1, 2, 3, 5, 7, 10, 14, 28, 31, 33, 33, 33, 33, 33, 33, 33, 33, 33, 33, 33, 33],
    [1, 2, 3, 4, 6, 9, 13, 26, 30, 31, 32, 32, 32, 32, 32, 32, 32, 32, 32, 32, 32],
    [1, 2, 3, 5, 8, 12, 25, 28, 30, 30, 30, 30, 30, 30, 30, 30, 30, 30, 30, 30],
    [1, 2, 4, 7, 11, 24, 26, 28, 28, 28, 28, 28, 28, 28, 28, 28, 28, 28, 28],
    [1, 3, 6, 10, 22, 25, 26, 26, 26, 26, 26, 26, 26, 26, 26, 26, 26, 26],
    [1, 3, 7, 20, 22, 22, 23, 23, 23, 23, 23, 23, 23, 23, 23, 23, 23],
    [1, 4, 16, 18, 19, 19, 19, 19, 19, 19, 19, 19, 19, 19, 19, 19],
    [1, 9, 11, 12, 12, 12, 12, 13, 13, 13, 13, 13, 13, 13, 13],
    [1, 2, 3, 3, 4, 4, 4, 5, 5, 5, 5, 5, 5, 5],
    [1, 2, 3, 3, 4, 4, 5, 5, 5, 5, 5, 5, 5],
    [1, 2, 2, 3, 3, 4, 4, 4, 4, 4, 4, 4],
    [1, 2, 2, 3, 3, 4, 4, 4, 4, 4, 4],
    [1, 2, 2, 3, 3, 3, 3, 3, 3, 3],
    [1, 2, 2, 2, 3, 3, 3, 3, 3],
    [1, 2, 2, 2, 2, 2, 2, 2],
    [1, 2, 2, 2, 2, 2, 2],
    [1, 1, 2, 2, 2, 2],
    [1, 1, 1, 2, 2],
    [1, 1, 1, 1],
    [1, 1, 1],
    [1, 1],
    [1],
]
snapshot_ticks = [0, 5, 10, 15, 20, 25, 30, 35, 40, 44]
cbar_ticks = [0.2, 0.4, 0.6, 0.8, 1.0]

# ---- embedding ----
embed_x = [.2512, .2532, .2560, .2632, .2484, .2460, .2440, .2376, .2356, .2312, .2204, .1968, .1736,
           .144, .1316, .1276, .1168, .1168, .1168, .1156, .108, .1036, .102, .0956, .0932, .0892, .072, .06, .0472, .0184,
           .0032, -.0348, -.0345]
embed_y = [-.2990, -.3026, -.3074, -.3212, -.2931, -.2889, -.2847, -.2721, -.2679, -.2596, -.2392, -.1938, -.1477,
           -.0891, -.0616, -.0502, -.0257, -.0233, -.0126, -.0108, -.003, .0072, .009, .0132, .0138, .0144, .015, .015, .0144, .0102,
           .0072, .0012, .0012]
embed_colors = ['#ffb40a'] * 13 + ['#3a4fc2'] * 17 + ['#b50f36'] * 3
embed_labels = [0, 3, 6, 9, 12, 15, 18, 21, 24, 27, 30]

inset_ids = [37, 39, 40, 41, 42, 36, 43, 44, 38, 35, 34, 33]
inset_x = [-.0870, -.0846, -.0827, -.0826, -.0822, -.0806, -.0801, -.0775, -.0769, -.0738, -.0642, -.0600]
inset_y = [-.0080, -.0080, -.0080, -.0080, -.0080, -.0073, -.0073, -.0073, -.0073, -.0059, -.0037, -.0030]

embed_xticks = [-0.1, 0.0, 0.1, 0.2, 0.3]
embed_yticks = [0.1, 0.0, -0.1, -0.2, -0.3, -0.4]


def pixel_axes(fig, left, right, top, bottom):
    ''' add axes from pixel edges of the figure. '''
    return fig.add_axes([left / W, 1 - bottom / H, (right - left) / W, (bottom - top) / H])


def draw_map(fig, box, title, title_x, xlabel_pos, ylabel_pos, tints, contours, points):
    ''' one density map: raster background, coast and lakes, contour lines, sites. '''
    ax = pixel_axes(fig, *box)
    lons = np.arange(8.4, 31.6, 0.5)
    lats = np.arange(-10.5, 6.7, 0.5)
    grid = np.zeros((len(lats), len(lons)))
    for lon0, lon1, lat0, lat1, level in tints:
        sel_x = (lons + .25 > lon0) & (lons + .25 < lon1)
        sel_y = (lats + .25 > lat0) & (lats + .25 < lat1)
        grid[np.ix_(sel_y, sel_x)] = np.maximum(grid[np.ix_(sel_y, sel_x)], level)
    ax.imshow(grid, cmap=map_cmap, vmin=0, vmax=1, aspect='auto', interpolation='bilinear',
              extent=(8.4, 31.6, 6.7, -10.5))
    ax.fill_betweenx(coast_lat, 8.4, coast_lon, step='post', color='white', lw=0)
    for lake in lakes:
        ax.fill(*zip(*lake), color='white', lw=0)
    for line in contours:
        ax.plot(*zip(*line), color='black', lw=1.9, solid_capstyle='round', solid_joinstyle='round')
    ax.plot(*zip(*points), 'o', color='#0a0a0a', ms=4.7, mew=0, zorder=3, clip_on=False)
    ax.set_xlim(8.4, 31.6)
    ax.set_ylim(6.67, -10.47)
    ax.set_xticks(lon_ticks)
    ax.set_yticks(lat_ticks)
    ax.set_yticklabels([str(t) for t in lat_ticks])
    ax.tick_params(length=2.5, width=0.6, color='#777777', labelsize=7.5, labelcolor='#555555', pad=2)
    for label in ax.get_xticklabels() + ax.get_yticklabels():
        label.set_family('DejaVu Sans')
    for name, spine in ax.spines.items():
        spine.set_color('#bdbdbd')
        spine.set_linewidth(1.4 if name == 'top' else 0.9)
    fig.text(title_x / W, 1 - 14 / H, title, ha='center', va='center', fontsize=13.6, color='#1a1a1a')
    fig.text(xlabel_pos[0] / W, 1 - xlabel_pos[1] / H, 'Longitude', ha='center', va='center', fontsize=14.5, color='#1a1a1a')
    fig.text(ylabel_pos[0] / W, 1 - ylabel_pos[1] / H, 'Latitude', ha='center', va='center', rotation=90, fontsize=14.5, color='#1a1a1a')


map_cmap = LinearSegmentedColormap.from_list('map', ['#90a8b1', '#5f6a8c'])

fig = plt.figure(figsize=(W / 100, H / 100), dpi=100)

draw_map(fig, (65, 406.7, 26.7, 296.7), map_titles[0], 222, (223, 322), (32, 156), tints_117827, contours_117827, points_117827)
draw_map(fig, (487.3, 830, 26, 295.7), map_titles[1], 650, (647, 322), (455, 155), tints_114575, contours_114575, points_114575)
draw_map(fig, (916, 1259, 26.7, 295.7), map_titles[2], 1083, (1076, 324), (884, 155), tints_113121, contours_113121, points_113121)

# ---- panel b ----
n = 45
dist = np.zeros((n, n))
for i, row in enumerate(dist_upper):
    assert len(row) == n - i, (i, len(row))
    dist[i, i:] = np.array(row) / 100
dist = dist + np.triu(dist, 1).T

ax_b = pixel_axes(fig, 262, 551, 406.7, 675.7)
mesh = ax_b.pcolormesh(np.arange(n + 1), np.arange(n + 1), dist, cmap='YlGnBu_r', vmin=0.01, vmax=1.0)
ax_b.set_xlim(0, n)
ax_b.set_ylim(n, 0)
ax_b.set_xticks(np.array(snapshot_ticks) + 0.5)
ax_b.set_yticks(np.array(snapshot_ticks) + 0.5)
ax_b.set_xticklabels(snapshot_ticks)
ax_b.set_yticklabels(snapshot_ticks)
ax_b.tick_params(length=3, width=0.7, labelsize=10.5, labelcolor='#333333', pad=2)
for spine in ax_b.spines.values():
    spine.set_visible(False)

cax = pixel_axes(fig, 569, 581.7, 406.7, 675.7)
cbar = fig.colorbar(mesh, cax=cax)
cbar.set_ticks(cbar_ticks)
cbar.set_ticklabels(['%.1f' % t for t in cbar_ticks])
cbar.ax.tick_params(length=3, width=0.7, labelsize=10.5, labelcolor='#333333', pad=2)
cbar.outline.set_visible(False)

fig.text(415 / W, 1 - 380 / H, r'Distance matrix (LNE; $\tau$ = 100; $\tau_{temp}$ = 0.5)', ha='center', va='center', fontsize=14.5, color='#1a1a1a')
fig.text(406 / W, 1 - 706 / H, 'Snapshots', ha='center', va='center', fontsize=14.5, color='#1a1a1a')
fig.text(221 / W, 1 - 545 / H, 'Snapshots', ha='center', va='center', rotation=90, fontsize=14.5, color='#1a1a1a')

# ---- panel c ----
ax_c = pixel_axes(fig, 721, 1095.7, 396.7, 675.3)
ax_c.scatter(embed_x, embed_y, c=embed_colors, s=30, linewidths=0, zorder=3)
ax_c.scatter(inset_x, inset_y, c='#b50f36', s=30, linewidths=0, zorder=3)
for i in embed_labels:
    ax_c.text(embed_x[i] + 0.001, embed_y[i] + 0.006, str(i), fontsize=9.5, color='#444444', zorder=4)
ax_c.set_xlim(-0.15, 0.3)
ax_c.set_ylim(-0.4, 0.1)
ax_c.set_xticks(embed_xticks)
ax_c.set_yticks(embed_yticks)
ax_c.set_xticklabels(['$%.1f$' % t for t in embed_xticks])
ax_c.set_yticklabels(['$%.1f$' % t for t in embed_yticks])
ax_c.tick_params(length=3.5, width=0.7, labelsize=12, labelcolor='#333333', pad=3)
for spine in ax_c.spines.values():
    spine.set_color('#333333')
    spine.set_linewidth(0.8)

# zoom box and its dotted guide lines
ax_c.add_patch(Rectangle((-0.102, -0.032), 0.058, 0.0535, fill=False, ec='#777777', lw=1.1, zorder=2))
ax_c.plot([-0.102, -0.137], [0.0215, -0.249], ls=':', color='#555555', lw=0.8, zorder=1)
ax_c.plot([-0.044, 0.199], [0.0215, -0.249], ls=':', color='#555555', lw=0.8, zorder=1)

ax_in = ax_c.inset_axes([-0.137, -0.383, 0.336, 0.134], transform=ax_c.transData)
ax_in.scatter(inset_x, inset_y, c='#b81d24', s=14, linewidths=0)
for x, y, i in zip(inset_x, inset_y, inset_ids):
    ax_in.text(x - 0.0001, y + 0.006, str(i), fontsize=7.3, color='#444444', ha='left', va='bottom')
ax_in.set_xlim(-0.0895, -0.0554)
ax_in.set_ylim(-0.067, 0.093)
ax_in.set_xticks([])
ax_in.set_yticks([])
for spine in ax_in.spines.values():
    spine.set_color('#777777')
    spine.set_linewidth(1.0)

fig.text(899 / W, 1 - 380 / H, 'Snapshot embedding (LNE)', ha='center', va='center', fontsize=15.3, color='#1a1a1a')

# panel letters
fig.text(20 / W, 1 - 44 / H, 'a)', ha='center', va='center', fontsize=17, color='#1a1a1a')
fig.text(214 / W, 1 - 417 / H, 'b)', ha='center', va='center', fontsize=17, color='#1a1a1a')
fig.text(672 / W, 1 - 417 / H, 'c)', ha='center', va='center', fontsize=17, color='#1a1a1a')

fig.savefig('out.png', dpi=100)
